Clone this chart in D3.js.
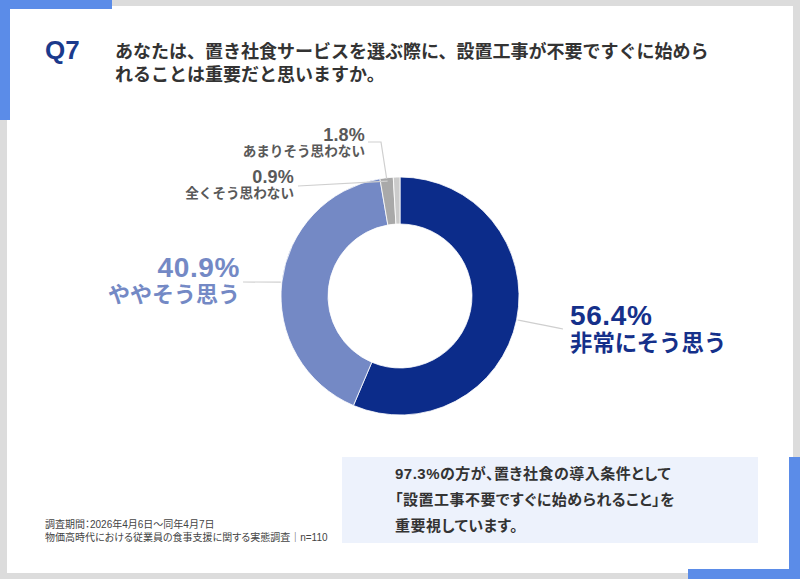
<!DOCTYPE html>
<html><head><meta charset="utf-8">
<script src="https://cdn.jsdelivr.net/npm/d3@7/dist/d3.min.js"></script>
<style>
html,body{margin:0;padding:0;background:#dcdcdc;}
svg{display:block;}
.palt{font-feature-settings:"palt";}
</style></head>
<body>
<svg id="chart" width="800" height="579"></svg>
<script>
const categories = ["非常にそう思う", "ややそう思う", "あまりそう思わない", "全くそう思わない"];
const values = [56.4, 40.9, 1.8, 0.9];
const valueLabels = ["56.4%", "40.9%", "1.8%", "0.9%"];
const colors = ["#0c2c8a", "#7489c5", "#a9a9a9", "#cbcbcb"];
const titleLines = ["あなたは、置き社食サービスを選ぶ際に、設置工事が不要ですぐに始めら", "れることは重要だと思いますか。"];
const noteLines = ["調査期間：2026年4月6日～同年4月7日", "物価高時代における従業員の食事支援に関する実態調査｜n=110"];
const boxLines = ["97.3%の方が、置き社食の導入条件として", "「設置工事不要ですぐに始められること」を", "重要視しています。"];

const FONT = "'Liberation Sans','Noto Sans CJK JP',sans-serif";
const svg = d3.select("#chart").style("font-family", FONT);

// background card
svg.append("rect").attr("x",0).attr("y",0).attr("width",800).attr("height",579).attr("fill","#dcdcdc");
svg.append("rect").attr("x",7).attr("y",6).attr("width",786).attr("height",567).attr("fill","#ffffff");
const blue = "#5b8ce8";
svg.append("rect").attr("x",0).attr("y",0).attr("width",112).attr("height",9).attr("fill",blue);
svg.append("rect").attr("x",0).attr("y",0).attr("width",10).attr("height",120).attr("fill",blue);
svg.append("rect").attr("x",688).attr("y",569).attr("width",112).attr("height",10).attr("fill",blue);
svg.append("rect").attr("x",789).attr("y",457).attr("width",11).attr("height",122).attr("fill",blue);

// title
svg.append("text").attr("x",45).attr("y",59).attr("font-size",26).attr("font-weight","bold")
  .attr("fill","#1b3a8c").attr("font-family","'Liberation Sans',sans-serif").text("Q7");
svg.selectAll("text.title").data(titleLines).enter().append("text").attr("class","title")
  .attr("x",115).attr("y",(d,i)=>58+i*23).attr("font-size",18).attr("font-weight","bold")
  .attr("fill","#333333").text(d=>d);

// donut
const cx = 400, cy = 296, rOuter = 119, rInner = 72;
const g = svg.append("g").attr("transform",`translate(${cx},${cy})`);
const pie = d3.pie().sort(null).value(d=>d);
const arcs = pie(values);
const arc = d3.arc().innerRadius(rInner).outerRadius(rOuter);
g.selectAll("path").data(arcs).enter().append("path")
  .attr("d",arc).attr("fill",(d,i)=>colors[i]).attr("stroke","#ffffff").attr("stroke-width",0.8);

function edgePoint(a, r){ const ang=(a.startAngle+a.endAngle)/2; return [Math.sin(ang)*r, -Math.cos(ang)*r]; }

// leader lines
const lineColor = "#cfcfcf";
const p0 = edgePoint(arcs[0], rOuter+1);
g.append("path").attr("d", d3.line().curve(d3.curveBasis)([[p0[0],p0[1]],[p0[0]+20,p0[1]+4],[563-cx,329-cy]]))
  .attr("fill","none").attr("stroke",lineColor).attr("stroke-width",1.2);
const p1 = edgePoint(arcs[1], rOuter+1);
g.append("path").attr("d", d3.line()([[243-cx,282-cy],[p1[0],p1[1]]]))
  .attr("fill","none").attr("stroke",lineColor).attr("stroke-width",1.2);
const p2 = edgePoint(arcs[2], rOuter-1);
g.append("path").attr("d", d3.line()([[368-cx,142-cy],[381-cx,142-cy],[p2[0],p2[1]]]))
  .attr("fill","none").attr("stroke",lineColor).attr("stroke-width",1.2);
const p3 = edgePoint(arcs[3], rOuter+1);
g.append("path").attr("d", d3.line()([[298-cx,186-cy],[p3[0]-9,p3[1]+5]]))
  .attr("fill","none").attr("stroke",lineColor).attr("stroke-width",1.2);

// labels
const labelSpec = [
  {x:570, y1:325, y2:351, anchor:"start", f1:28, f2:22.4, color:"#15308a", ls:0.6},
  {x:240, y1:277, y2:302, anchor:"end", f1:28, f2:22, color:"#7489c5", ls:0.6},
  {x:365, y1:141, y2:155.5, anchor:"end", f1:18, f2:13.6, color:"#595959", ls:0.2},
  {x:294, y1:183, y2:197.5, anchor:"end", f1:18, f2:13.6, color:"#595959", ls:0.2}
];
labelSpec.forEach((s,i)=>{
  svg.append("text").attr("x",s.x).attr("y",s.y1).attr("text-anchor",s.anchor)
    .attr("font-size",s.f1).attr("font-weight","bold").attr("fill",s.color)
    .attr("letter-spacing",s.ls)
    .attr("font-family","'Liberation Sans',sans-serif").text(valueLabels[i]);
  svg.append("text").attr("x",s.x).attr("y",s.y2).attr("text-anchor",s.anchor)
    .attr("font-size",s.f2).attr("font-weight","bold").attr("fill",s.color).text(categories[i]);
});

// notes
svg.selectAll("text.note").data(noteLines).enter().append("text").attr("class","note palt")
  .attr("x",45).attr("y",(d,i)=>527.5+i*13.5).attr("font-size",10).attr("fill","#444444").text(d=>d);

// box
svg.append("rect").attr("x",342).attr("y",457).attr("width",416).attr("height",86).attr("fill","#edf2fc");
svg.selectAll("text.box").data(boxLines).enter().append("text").attr("class","box palt")
  .attr("x",395).attr("y",(d,i)=>479+i*26).attr("font-size",15).attr("font-weight","bold")
  .attr("letter-spacing",0.5)
  .attr("fill","#333333").text(d=>d);
</script>
</body></html>
